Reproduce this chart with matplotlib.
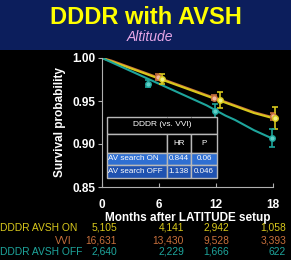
import matplotlib
matplotlib.use("Agg")
import matplotlib.pyplot as plt
from matplotlib.patches import Rectangle

plt.rcParams['font.family'] = ['Liberation Sans', 'DejaVu Sans']

W, H = 291, 260

# survival curves (months, probability)
months = [0, 1, 2, 3, 4, 5, 6, 7, 8, 9, 10, 11, 12, 13, 14, 15, 16, 17, 18]
surv_on = [1.0, 0.996, 0.992, 0.988, 0.984, 0.980, 0.976, 0.972, 0.968, 0.964,
           0.960, 0.956, 0.952, 0.948, 0.944, 0.940, 0.936, 0.933, 0.930]
surv_vvi = [1.0, 0.997, 0.993, 0.989, 0.985, 0.981, 0.977, 0.973, 0.969, 0.965,
            0.961, 0.957, 0.953, 0.949, 0.945, 0.941, 0.937, 0.934, 0.931]
surv_off = [1.0, 0.995, 0.990, 0.985, 0.980, 0.975, 0.970, 0.965, 0.960, 0.955,
            0.950, 0.945, 0.939, 0.933, 0.928, 0.922, 0.916, 0.911, 0.906]

# markers with error bars
mk_on_x = [6.3, 12.4, 18.2]
mk_on_y = [0.9755, 0.951, 0.930]
mk_on_err = [0.006, 0.0095, 0.0125]
mk_vvi_x = [5.9, 11.8, 18.0]
mk_vvi_y = [0.978, 0.954, 0.932]
mk_vvi_err = [0.003, 0.003, 0.004]
mk_off_x = [4.8, 11.9, 17.9]
mk_off_y = [0.970, 0.938, 0.907]
mk_off_err = [0.004, 0.008, 0.011]

groups = ['DDDR AVSH ON', 'VVI', 'DDDR AVSH OFF']
at_risk_on = ['5,105', '4,141', '2,942', '1,058']
at_risk_vvi = ['16,631', '13,430', '9,528', '3,393']
at_risk_off = ['2,640', '2,229', '1,666', '622']

table_rows = [['', 'HR', 'P'],
              ['AV search ON', '0.844', '0.06'],
              ['AV search OFF', '1.138', '0.046']]

c_on = '#d8c81c'
c_vvi = '#c8703c'
c_off = '#1ea59c'

fig = plt.figure(figsize=(W / 100, H / 100), dpi=100, facecolor='black')

# banner
fig.patches.append(Rectangle((0, (H - 50) / H), 1, 50 / H, transform=fig.transFigure,
                             facecolor='#0c1e5c', edgecolor='none', zorder=0))
fig.text(146 / W, 1 - 17 / H, 'DDDR with AVSH', color='#ffff00', fontsize=17,
         fontweight='bold', ha='center', va='center')
fig.text(150 / W, 1 - 37 / H, 'Altitude', color='#e8a8e8', fontsize=10,
         style='italic', ha='center', va='center')

ax = fig.add_axes([102 / W, (H - 187) / H, 171 / W, 129 / H])
ax.set_facecolor('black')

ax.plot(months, surv_vvi, color=c_vvi, lw=1.5)
ax.plot(months, surv_on, color=c_on, lw=1.5)
ax.plot(months, surv_off, color=c_off, lw=1.5)

for x, y, e, c, fc in [(mk_vvi_x, mk_vvi_y, mk_vvi_err, c_vvi, '#f0b8a0'),
                       (mk_on_x, mk_on_y, mk_on_err, c_on, '#f0f080'),
                       (mk_off_x, mk_off_y, mk_off_err, c_off, '#60d0c8')]:
    ax.errorbar(x, y, yerr=e, fmt='o', color=c, mfc=fc, mec=c, ms=4,
                capsize=2.5, elinewidth=1.2, capthick=1.2, zorder=5, clip_on=False)

ax.set_xlim(0, 18)
ax.set_ylim(0.85, 1.0)
ax.set_xticks([0, 6, 12, 18])
ax.set_yticks([0.85, 0.90, 0.95, 1.00])
ax.set_yticklabels(['0.85', '0.90', '0.95', '1.00'])
for s in ['top', 'right']:
    ax.spines[s].set_visible(False)
for s in ['left', 'bottom']:
    ax.spines[s].set_color('#b0b0b0')
ax.tick_params(axis='x', direction='in', length=3, pad=9, colors='#b0b0b0',
               labelcolor='white', labelsize=8.5)
ax.tick_params(axis='y', direction='out', length=3, pad=2, colors='#b0b0b0',
               labelcolor='white', labelsize=8.5)
for lbl in ax.get_xticklabels() + ax.get_yticklabels():
    lbl.set_fontweight('bold')
ax.set_xlabel('Months after LATITUDE setup', color='white', fontsize=8.5,
              fontweight='bold', labelpad=0)
ax.set_ylabel('Survival probability', color='white', fontsize=8.5,
              fontweight='bold', labelpad=4)

# hazard ratio table
cell_colors = [['black'] * 3, ['#2f6fd2'] * 3, ['#2052b0'] * 3]
all_rows = [['', '', '']] + table_rows
all_colors = [['black'] * 3] + cell_colors
tb = ax.table(cellText=all_rows, cellColours=all_colors, cellLoc='center',
              colWidths=[60, 24, 26],
              bbox=[5 / 171, 9 / 129, 110 / 171, 61 / 129], zorder=10)
tb.auto_set_font_size(False)
heights = [17, 18.7, 12.3, 13]
for (r, c), cell in tb.get_celld().items():
    cell.set_edgecolor('#b8b8b8')
    cell.set_linewidth(1.0)
    cell.set_height(heights[r])
    cell.get_text().set_color('white')
    cell.get_text().set_fontsize(5.8)
    cell.PAD = 0.02
    if r >= 2 and c == 0:
        cell.get_text().set_ha('left')
    if r == 0:
        cell.visible_edges = {0: 'BLT', 1: 'BT', 2: 'BRT'}[c]
ax.text((5 + 55) / 171, (187 - 125) / 129, 'DDDR (vs. VVI)', color='white',
        fontsize=6, ha='center', va='center', transform=ax.transAxes, zorder=11)

# numbers at risk
row_y = [228, 240.5, 252]
label_pos = [(0, 'left'), (72, 'right'), (0, 'left')]
colors = [c_on, c_vvi, c_off]
num_x = [117, 184, 229, 286]
for i, (name, vals) in enumerate(zip(groups, [at_risk_on, at_risk_vvi, at_risk_off])):
    lx, ha = label_pos[i]
    fig.text(lx / W, 1 - row_y[i] / H, name, color=colors[i], fontsize=7.4,
             ha=ha, va='center')
    for x, v in zip(num_x, vals):
        fig.text(x / W, 1 - row_y[i] / H, v, color=colors[i], fontsize=7.4,
                 ha='right', va='center')

fig.savefig('out.png', dpi=100, facecolor='black')
